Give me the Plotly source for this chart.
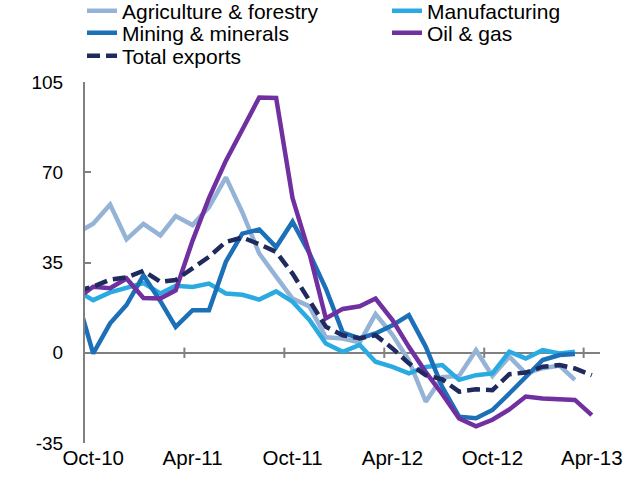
import pandas as pd
import plotly.graph_objects as go

# Monthly data, Sep-10 .. Apr-13 (Sep-10 is clipped by the axis, as in the original)
months = pd.date_range("2010-09-01", periods=32, freq="MS") + pd.Timedelta(days=15)

agriculture = [46.5, 50, 57.5, 44, 50, 45.5, 53, 49.5, 56.5, 68, 54.5, 38.5, 29.5, 21, 18, 6,
               5.5, 4, 15, 7, -3, -19, -9.5, -9, 1, -9, -1.5, -8, -6, -5, -10.5, None]
manufacturing = [24, 20.4, 23.4, 25, 27, 23, 26, 25.5, 26.8, 23, 22.5, 20.6, 23.8, 19.8, 12.7, 3.6,
                 0.4, 3, -3.5, -5.5, -8, -5.5, -4.8, -10.5, -8.7, -8, 0.4, -2.2, 1, -0.3, 0.4, None]
mining = [21.7, -0.3, 11.4, 18.5, 30, 20, 10, 16.5, 16.5, 35.3, 46.2, 47.8, 41, 50.8, 38.5, 24.9,
          7.8, 5.6, 7.5, 10.7, 14.6, 2.3, -13.2, -24.8, -25.4, -22.2, -15.8, -9.3, -2.8, -0.9, -0.5, None]
oil_gas = [21, 25.6, 25, 28.8, 21.2, 21, 24.2, 43.5, 60, 74.5, 86.5, 99, 98.8, 60, 38.5, 13.3,
           17, 18, 21, 12.7, 2.3, -7.5, -16, -25.5, -28.5, -26, -22, -17, -17.7, -18, -18.3, -24.2]
total = [24, 25.6, 28.4, 29.2, 31.8, 27.5, 28.2, 32.7, 37.2, 43, 44.7, 42.1, 39.1, 30.7, 20.4, 10.1,
         6.8, 5.6, 6.8, 1.7, -4.1, -8.7, -10.3, -15.1, -14.2, -14.5, -8.3, -7.7, -5.4, -4.8, -6.1, -8.7]

tick_labels = ["Oct-10", "Apr-11", "Oct-11", "Apr-12", "Oct-12", "Apr-13"]
tick_label_pos = pd.to_datetime(["2010-10-16", "2011-04-16", "2011-10-16",
                                 "2012-04-16", "2012-10-16", "2013-04-16"])
tick_mark_pos = pd.to_datetime(["2011-04-01", "2011-10-01", "2012-04-01",
                                "2012-10-01", "2013-04-01"])
y_ticks = [-35, 0, 35, 70, 105]

FONT = "Liberation Sans, Arial, sans-serif"
W, H = 635, 485

# legend slot for each series: (legend id, left x px, row centre y px)
series = [
    ("Agriculture & forestry", agriculture, "#95B3D7", "solid", "legend", 82, 11),
    ("Manufacturing", manufacturing, "#29ABE2", "solid", "legend2", 387, 11),
    ("Mining & minerals", mining, "#1B70B8", "solid", "legend3", 82, 33),
    ("Oil & gas", oil_gas, "#7030A0", "solid", "legend4", 387, 33),
    ("Total exports", total, "#1F2A5E", "13px,6px", "legend5", 82, 56),
]

fig = go.Figure()
legends = {}
for name, y, color, dash, lg, lx, ly in series:
    fig.add_trace(go.Scatter(
        x=months, y=y, name=name, mode="lines",
        line=dict(color=color, width=4.5, dash=dash),
        legend=lg, showlegend=True, connectgaps=False,
    ))
    legends[lg] = dict(
        x=lx / W, y=1 - ly / H, xref="container", yref="container",
        xanchor="left", yanchor="middle", orientation="v",
        font=dict(family=FONT, size=21, color="#000000"),
        bgcolor="rgba(0,0,0,0)", itemwidth=30, visible=True,
    )

shapes = []
for d in tick_mark_pos:
    shapes.append(dict(type="line", xref="x", yref="y", x0=d, x1=d, y0=-2, y1=2,
                       line=dict(color="#808080", width=2), layer="below"))

fig.update_layout(
    width=W, height=H, showlegend=True,
    margin=dict(l=85, r=35, t=82, b=42, autoexpand=False),
    paper_bgcolor="white", plot_bgcolor="white",
    font=dict(family=FONT, color="#000000"),
    shapes=shapes,
    xaxis=dict(
        type="date", range=["2010-10-01", "2013-05-01"],
        tickvals=tick_label_pos, ticktext=tick_labels,
        ticks="", showline=False, showgrid=False, zeroline=False,
        tickfont=dict(family=FONT, size=20.5, color="#000000"),
        automargin=False,
    ),
    yaxis=dict(
        range=[-35, 105], tickvals=y_ticks, ticktext=[str(v) for v in y_ticks],
        showgrid=False, showline=True, linecolor="#808080", linewidth=2,
        ticks="inside", ticklen=6, tickwidth=2, tickcolor="#808080",
        zeroline=True, zerolinecolor="#808080", zerolinewidth=2,
        tickfont=dict(family=FONT, size=19, color="#000000"),
        ticklabelstandoff=16, automargin=False,
    ),
)
fig.update_layout(**legends)

fig.write_html(
    "out.html",
    config={"displayModeBar": False},
    post_script="document.body.style.margin='0';document.body.style.padding='0';",
)
